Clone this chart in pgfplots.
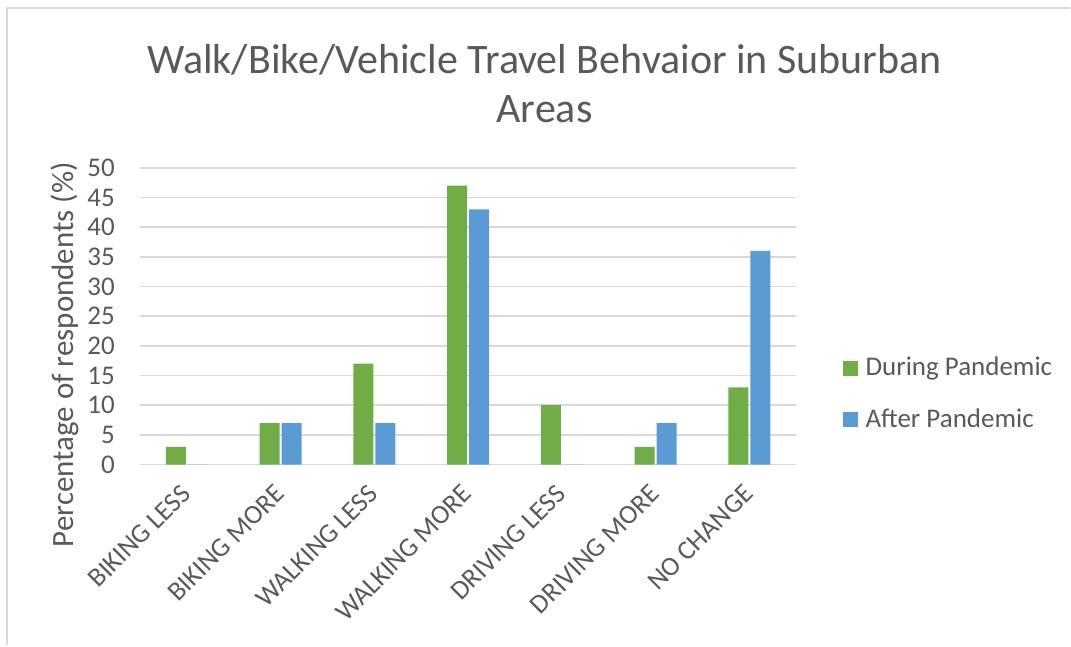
\documentclass[border=0pt]{standalone}
\usepackage{fontspec}
\setmainfont{Carlito}
\usepackage{pgfplots}
\pgfplotsset{compat=1.18}
\usepackage{xcolor}

\definecolor{during}{HTML}{70AD47}
\definecolor{after}{HTML}{5B9BD5}
\definecolor{txt}{HTML}{595959}
\definecolor{gridc}{HTML}{D9D9D9}

\begin{document}
\begin{tikzpicture}
% canvas 1071x646 px at 0.5pt per px
\path (0,0) rectangle (535.5pt,323pt);
\draw[gridc, line width=1pt] (3.5pt,0pt) -- (3.5pt,319pt) -- (535.5pt,319pt);

\node[txt, font=\fontsize{21}{24.5}\selectfont, align=center] at (272.5pt,281pt)
  {Walk/Bike/Vehicle Travel Behvaior in Suburban\\Areas};

\node[txt, font=\fontsize{15.5}{18}\selectfont, rotate=90] at (32.5pt,145.5pt)
  {Percentage of respondents (\%)};

\begin{axis}[
    at={(70pt,90.5pt)}, anchor=south west,
    scale only axis,
    width=328.5pt, height=148.5pt,
    ybar=1pt,
    bar width=10pt,
    xmin=-0.5, xmax=6.5,
    ymin=0, ymax=50,
    ytick distance=5,
    xtick=data,
    xticklabels={BIKING LESS, BIKING MORE, WALKING LESS, WALKING MORE, DRIVING LESS, DRIVING MORE, NO CHANGE},
    xticklabel style={xshift=2pt, yshift=-10pt, rotate=45, anchor=east, font=\fontsize{13.5}{16}\selectfont, text=txt},
    yticklabel style={xshift=-9pt, font=\fontsize{13.5}{16}\selectfont, text=txt},
    /pgf/number format/assume math mode=true,
    major tick length=0pt,
    axis line style={draw=none},
    ymajorgrids,
    major grid style={gridc, line width=0.9pt},
    legend style={
      at={(1.07,0.238)}, anchor=west,
      draw=none, fill=none, inner sep=0pt,
      font=\fontsize{13.5}{16}\selectfont, text=txt,
      row sep=11pt,
      /tikz/every odd column/.append style={column sep=2pt},
    },
    legend cell align=left,
    legend image code/.code={\fill[#1] (0pt,-3.75pt) rectangle (7.5pt,3.75pt);},
  ]

  \addplot[fill=during, draw=none] coordinates {
    (0,3) (1,7) (2,17) (3,47) (4,10) (5,3) (6,13)
  };
  \addplot[fill=after, draw=none] coordinates {
    (0,0) (1,7) (2,7) (3,43) (4,0) (5,7) (6,36)
  };

  \legend{During Pandemic, After Pandemic}
\end{axis}
\end{tikzpicture}
\end{document}
